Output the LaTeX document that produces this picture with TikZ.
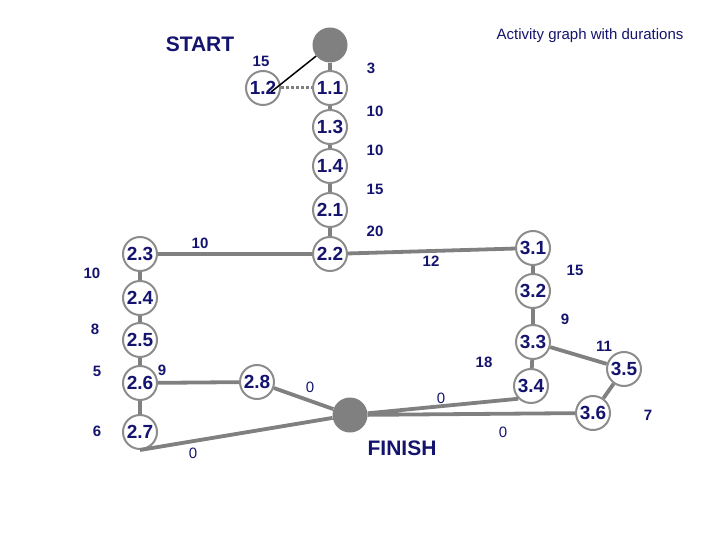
\documentclass[tikz,border=0pt]{standalone}
\usepackage{fontspec}
\setmainfont{Liberation Sans}
\begin{document}
\begin{tikzpicture}[x=1pt,y=-1pt]
\definecolor{navy}{RGB}{20,20,110}
\definecolor{gr}{RGB}{128,128,128}
\definecolor{lgr}{RGB}{140,140,140}
\tikzset{
 act/.style={circle,draw=lgr,line width=2pt,fill=white,minimum size=34pt,inner sep=0pt,text=navy,font=\fontsize{19}{19}\selectfont\bfseries},
 term/.style={circle,fill=gr,minimum size=35pt,inner sep=0pt},
 lab/.style={text=navy,font=\fontsize{15}{15}\selectfont\bfseries},
 zl/.style={text=navy,font=\fontsize{15}{15}\selectfont},
 edge/.style={gr,line width=3.8pt}
}
\useasboundingbox (0,0) rectangle (720,540);
\node[term] (s) at (330,45) {};
\node[term] (f) at (350,415) {};
\node[act] (n12) at (263,88) {1.2};
\node[act] (n11) at (330,88) {1.1};
\node[act] (n13) at (330,127) {1.3};
\node[act] (n14) at (330,166) {1.4};
\node[act] (n21) at (330,210) {2.1};
\node[act] (n22) at (330,254) {2.2};
\node[act] (n23) at (140,254) {2.3};
\node[act] (n24) at (140,298) {2.4};
\node[act] (n25) at (140,340) {2.5};
\node[act] (n26) at (140,383) {2.6};
\node[act] (n27) at (140,432) {2.7};
\node[act] (n28) at (257,382) {2.8};
\node[act] (n31) at (533,248) {3.1};
\node[act] (n32) at (533,291) {3.2};
\node[act] (n33) at (533,342) {3.3};
\node[act] (n34) at (531,386) {3.4};
\node[act] (n35) at (624,369) {3.5};
\node[act] (n36) at (593,413) {3.6};
\draw[edge] (s) -- (n11) (n11) -- (n13) (n13) -- (n14) (n14) -- (n21) (n21) -- (n22);
\draw[edge] (n23) -- (n22) (n22) -- (n31) (n31) -- (n32) (n32) -- (n33) (n33) -- (n34) (n33) -- (n35) (n35) -- (n36);
\draw[edge] (n23) -- (n24) (n24) -- (n25) (n25) -- (n26) (n26) -- (n27) (n26) -- (n28);
\draw[edge] (n28) -- (f) (n34.south west) -- (f) (n36) -- (f) (n27.south) -- (f);
\draw[gr,line width=3pt,dash pattern=on 3pt off 2pt] (n12) -- (n11);
\draw[black,line width=1.5pt] (s) -- ([xshift=8pt,yshift=-4pt]n12.center);
\node[lab,font=\fontsize{21}{21}\selectfont\bfseries] (st) at (200,44) {START};
\node[lab,font=\fontsize{21}{21}\selectfont\bfseries] (fi) at (402,448) {FINISH};
\node[zl] (title) at (590,36) {Activity graph with durations};
\node[lab] (l1) at (261,61) {15};
\node[lab] (l2) at (371,68) {3};
\node[lab] (l3) at (375,111) {10};
\node[lab] (l4) at (375,150) {10};
\node[lab] (l5) at (375,189) {15};
\node[lab] (l6) at (375,231) {20};
\node[lab] (l7) at (200,243) {10};
\node[lab] (l8) at (431,261) {12};
\node[lab] (l9) at (575,270) {15};
\node[lab] (l10) at (565,319) {9};
\node[lab] (l11) at (604,346) {11};
\node[lab] (l12) at (484,362) {18};
\node[lab] (l13) at (648,415) {7};
\node[lab] (l14) at (92,273) {10};
\node[lab] (l15) at (95,329) {8};
\node[lab] (l16) at (97,371) {5};
\node[lab] (l17) at (162,370) {9};
\node[lab] (l18) at (97,431) {6};
\node[zl] (z1) at (310,387) {0};
\node[zl] (z2) at (441,398) {0};
\node[zl] (z3) at (503,432) {0};
\node[zl] (z4) at (193,453) {0};
\end{tikzpicture}
\end{document}
